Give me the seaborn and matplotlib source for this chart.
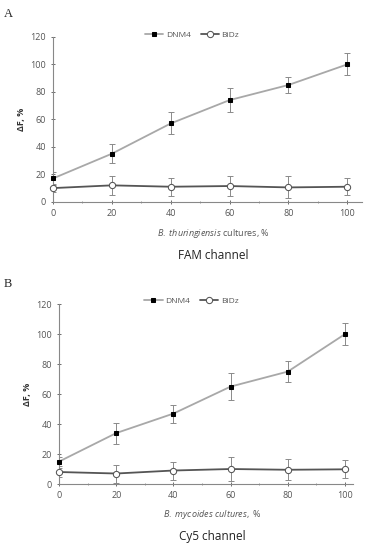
import pandas as pd
import seaborn as sns
import matplotlib.pyplot as plt
from matplotlib.ticker import MultipleLocator

sns.set_style('ticks')
plt.rcParams['font.family'] = ['Open Sans', 'DejaVu Sans']
plt.rcParams['mathtext.fontset'] = 'custom'
plt.rcParams['mathtext.it'] = 'Open Sans:italic'
plt.rcParams['mathtext.rm'] = 'Open Sans'

x = [0, 20, 40, 60, 80, 100]

# panel A - FAM channel
dnm4_a = [17, 35, 57, 74, 85, 100]
dnm4_a_err = [5, 7, 8, 9, 6, 8]
bidz_a = [10, 12, 11, 11.5, 10.5, 11]
bidz_a_err = [3, 7, 6.5, 7, 8, 6]

# panel B - Cy5 channel
dnm4_b = [15, 34, 47, 65, 75, 100]
dnm4_b_err = [3, 7, 6, 9, 7, 7.5]
bidz_b = [8, 7, 9, 10, 9.5, 9.8]
bidz_b_err = [3, 6, 6, 8, 7, 6]

fig = plt.figure(figsize=(3.65, 5.5), dpi=100)


def panel(rect, xmax, dnm, dnm_err, bidz, bidz_err, xital, xpost, title, ly):
    ax = fig.add_axes(rect)
    df = pd.DataFrame({'x': x * 2,
                       'y': dnm + bidz,
                       'probe': ['DNM4'] * 6 + ['BiDz'] * 6})
    ax.errorbar(x, dnm, yerr=dnm_err, fmt='none', ecolor='#8a8a8a', elinewidth=0.7, capsize=2, capthick=0.7, zorder=1)
    ax.errorbar(x, bidz, yerr=bidz_err, fmt='none', ecolor='#8a8a8a', elinewidth=0.7, capsize=2, capthick=0.7, zorder=1)
    sns.lineplot(data=df[df.probe == 'DNM4'], x='x', y='y', ax=ax, color='#a8a8a8', lw=1.3,
                 marker='s', markersize=3.5, markerfacecolor='black', markeredgecolor='black',
                 label='DNM4', zorder=3, clip_on=False)
    sns.lineplot(data=df[df.probe == 'BiDz'], x='x', y='y', ax=ax, color='#555555', lw=1.3,
                 marker='o', markersize=4.5, markerfacecolor='white', markeredgecolor='#555555',
                 label='BiDz', zorder=3, clip_on=False)
    ax.set_xlim(0, xmax)
    ax.set_ylim(0, 120)
    ax.xaxis.set_major_locator(MultipleLocator(20))
    ax.xaxis.set_minor_locator(MultipleLocator(10))
    ax.yaxis.set_major_locator(MultipleLocator(20))
    sns.despine(ax=ax)
    for s in ['left', 'bottom']:
        ax.spines[s].set_color('#888888')
        ax.spines[s].set_linewidth(0.8)
    ax.tick_params(axis='both', labelsize=6.5, colors='#555555', length=3, width=0.6, direction='inout')
    ax.tick_params(axis='x', which='minor', length=2, width=0.6, direction='inout', colors='#888888')
    ax.set_xlabel('')
    ax.set_ylabel('ΔF, %', fontsize=6.5, color='#333333', labelpad=3, fontweight='bold')
    ax.legend(loc='upper center', bbox_to_anchor=(0.45, 1.08), ncol=2, frameon=False, fontsize=6,
              handlelength=2.2, columnspacing=1.2, handletextpad=0.3, labelcolor='#555555')
    cx = rect[0] + rect[2] * 0.52
    fig.text(cx, ly, r'$\it{' + xital.replace(' ', r'\ ') + '}$' + xpost,
             ha='center', va='center', fontsize=6.5, color='#555555')
    fig.text(cx, ly - 0.04, title, ha='center', va='center', fontsize=8.5, color='#222222')
    return ax


panel([0.145, 0.633, 0.847, 0.30], 105, dnm4_a, dnm4_a_err, bidz_a, bidz_a_err,
      'B. thuringiensis', ' cultures, %', 'FAM channel', 0.576)
panel([0.162, 0.12, 0.805, 0.327], 102.8, dnm4_b, dnm4_b_err, bidz_b, bidz_b_err,
      'B. mycoides cultures,', ' %', 'Cy5 channel', 0.064)

fig.text(0.011, 0.985, 'A', fontsize=9, family='Liberation Serif', va='top')
fig.text(0.011, 0.494, 'B', fontsize=9, family='Liberation Serif', va='top')

plt.savefig('out.png', dpi=100)
